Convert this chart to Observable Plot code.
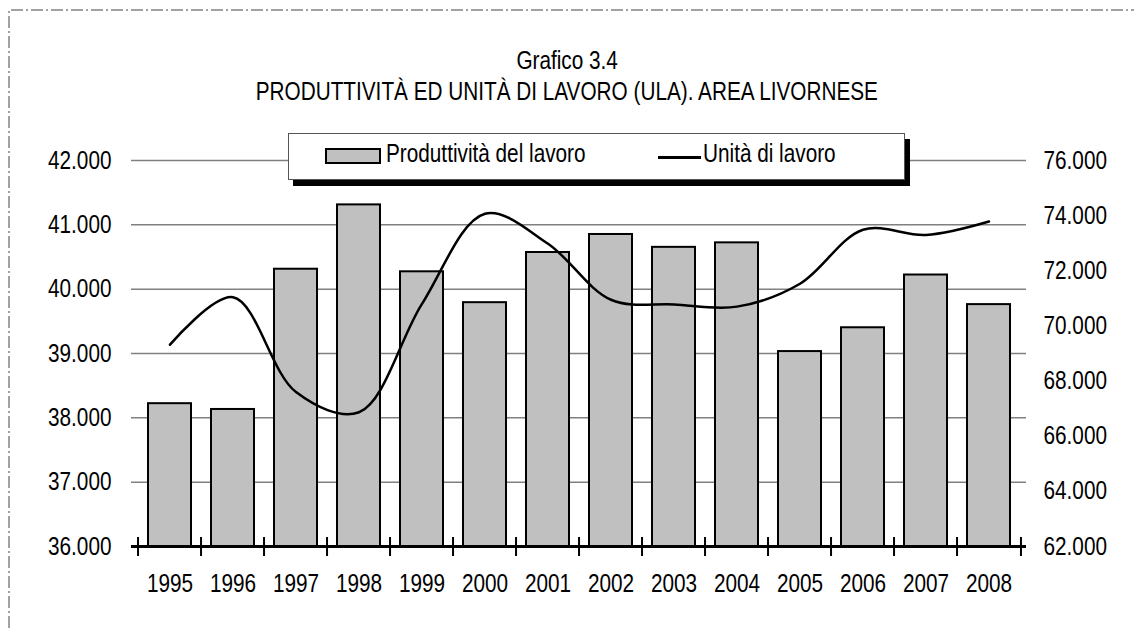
<!DOCTYPE html>
<html><head><meta charset="utf-8">
<script src="https://cdn.jsdelivr.net/npm/d3@7"></script>
<script src="https://cdn.jsdelivr.net/npm/@observablehq/plot@0.6"></script>
<style>
body{margin:0;background:#fff;}
#wrap{position:relative;width:1134px;height:628px;overflow:hidden;font-family:"Liberation Sans",Arial,sans-serif;color:#000;}
#chart{position:absolute;left:0;top:0;}
#title{position:absolute;left:0;top:45px;width:1134px;text-align:center;font-size:25px;line-height:31px;}
#title span{display:inline-block;transform:scaleX(0.83);transform-origin:center;white-space:nowrap;}
#legend{position:absolute;left:288px;top:133px;width:615px;height:45px;border:1px solid #555;background:#fff;box-shadow:5px 6px 0 #000;font-size:25px;}
#legend .sw{position:absolute;left:36px;top:14px;width:52px;height:12px;background:#c0c0c0;border:2px solid #000;}
#legend .t{position:absolute;top:2px;line-height:34px;white-space:nowrap;transform:scaleX(0.83);transform-origin:left center;}
#legend .t1{left:97px;}
#legend .ln{position:absolute;left:369px;top:22px;width:43px;height:3px;background:#000;}
#legend .t2{left:414px;}
#border{position:absolute;left:0;top:0;}
</style></head>
<body>
<div id="wrap">
  <div id="chart"></div>
  <div id="title"><span>Grafico 3.4</span><br><span>PRODUTTIVITÀ ED UNITÀ DI LAVORO (ULA). AREA LIVORNESE</span></div>
  <div id="legend"><span class="sw"></span><span class="t t1">Produttività del lavoro</span><span class="ln"></span><span class="t t2">Unità di lavoro</span></div>
  <svg id="border" width="1134" height="628"><path d="M9,628V10H1134" fill="none" stroke="#444" stroke-width="1" stroke-dasharray="12 3 2 3"/></svg>
</div>
<script>
const years = [1995,1996,1997,1998,1999,2000,2001,2002,2003,2004,2005,2006,2007,2008];
const productivity = [38220,38130,40310,41310,40270,39790,40570,40850,40650,40720,39030,39400,40220,39760];
const ula = [69320,71040,67600,66870,70800,74070,72980,70950,70780,70700,71530,73490,73300,73790];
const leftTicks = [36000,37000,38000,39000,40000,41000,42000];
const rightTicks = [62000,64000,66000,68000,70000,72000,74000,76000];

const W = 1134, H = 628, mt = 160, mb = 82, ml = 131, mr = 108;
const yDom = [leftTicks[0], leftTicks[leftTicks.length-1]];
const rDom = [rightTicks[0], rightTicks[rightTicks.length-1]];
const toLeft = v => yDom[0] + (v - rDom[0]) * (yDom[1]-yDom[0]) / (rDom[1]-rDom[0]);
const fromLeft = v => rDom[0] + (v - yDom[0]) * (rDom[1]-rDom[0]) / (yDom[1]-yDom[0]);
const fmt = d3.formatLocale({decimal:",", thousands:".", grouping:[3], currency:["€",""]}).format(",");
const data = years.map((y,i) => ({year: String(y), prod: productivity[i], ula: ula[i]}));
const step = (W - ml - mr) / years.length;
const pxY = (yDom[1]-yDom[0]) / (H - mt - mb);

const chart = Plot.plot({
  width: W, height: H, marginTop: mt, marginBottom: mb, marginLeft: ml, marginRight: mr,
  style: {fontFamily: '"Liberation Sans",Arial,sans-serif', fontSize: "25px", background: "transparent", color: "#000"},
  x: {type: "band", domain: years.map(String), paddingInner: 0.32, paddingOuter: 0.16},
  y: {domain: yDom},
  marks: [
    Plot.ruleY(leftTicks.slice(1), {stroke: "#808080", strokeWidth: 1.5}),
    Plot.barY(data, {x: "year", y1: yDom[0], y2: "prod", fill: "#c0c0c0", stroke: "#000", strokeWidth: 2}),
    Plot.line(data, {x: "year", y: d => toLeft(d.ula), curve: "catmull-rom", stroke: "#000", strokeWidth: 2.5}),
    Plot.ruleY([yDom[0]], {stroke: "#000", strokeWidth: 3}),
    Plot.ruleX(years.map(String), {x: d => d, dx: -step/2, y1: yDom[0] - 10*pxY, y2: yDom[0] + 9*pxY, stroke: "#000", strokeWidth: 2}),
    Plot.ruleX([String(years[years.length-1])], {x: d => d, dx: step/2, y1: yDom[0] - 10*pxY, y2: yDom[0] + 9*pxY, stroke: "#000", strokeWidth: 2}),
    Plot.axisY(leftTicks, {anchor: "left", label: null, tickSize: 0, tickPadding: 20, tickFormat: fmt, fontSize: 25}),
    Plot.axisY(rightTicks.map(toLeft), {anchor: "right", label: null, tickSize: 0, tickPadding: 17, tickFormat: d => fmt(Math.round(fromLeft(d))), fontSize: 25}),
    Plot.axisX({label: null, tickSize: 0, tickPadding: 28, fontSize: 25})
  ]
});
// condense glyphs horizontally (narrow face not installed)
chart.querySelectorAll("text").forEach(t => {
  const tr = t.getAttribute("transform");
  if (tr) t.setAttribute("transform", tr + " scale(0.83,1)");
  else {
    const x = +(t.getAttribute("x") || 0);
    t.setAttribute("transform", `translate(${x},0) scale(0.83,1) translate(${-x},0)`);
  }
});
document.getElementById("chart").appendChild(chart);
</script>
</body></html>
